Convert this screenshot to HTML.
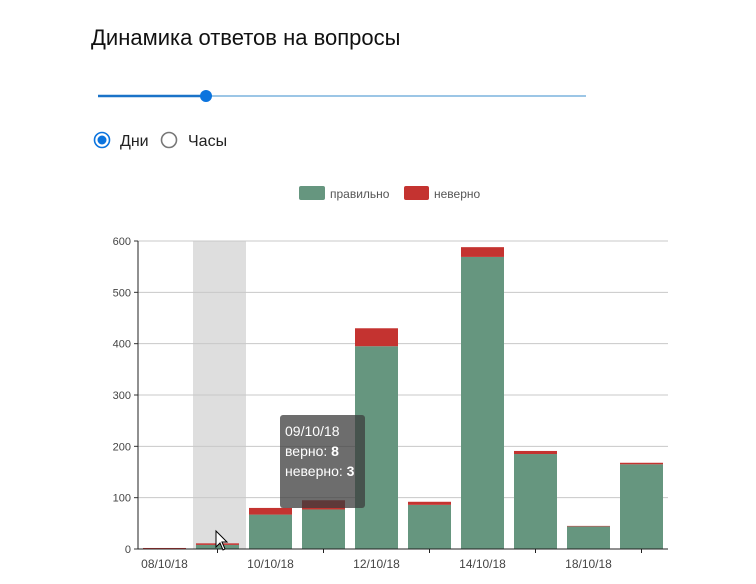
<!DOCTYPE html>
<html><head><meta charset="utf-8"><style>
body{margin:0;background:#fff;width:756px;height:579px;overflow:hidden;font-family:"Liberation Sans",sans-serif}
</style></head><body>
<svg width="756" height="579" xmlns="http://www.w3.org/2000/svg">
<text x="91" y="45" font-size="22" fill="#111">Динамика ответов на вопросы</text>
<g>
<line x1="98" y1="96" x2="586" y2="96" stroke="#9cc6e6" stroke-width="2"/>
<line x1="98" y1="96" x2="206" y2="96" stroke="#1a73c8" stroke-width="2.5"/>
<circle cx="206" cy="96" r="6" fill="#0b74de"/>
</g>
<g>
<circle cx="102" cy="140" r="7.5" fill="none" stroke="#0b74de" stroke-width="1.6"/>
<circle cx="102" cy="140" r="4.5" fill="#0b74de"/>
<text x="120" y="146" font-size="16" fill="#222">Дни</text>
</g>
<g>
<circle cx="169" cy="140" r="7.5" fill="none" stroke="#777" stroke-width="1.6"/>
<text x="188" y="146" font-size="16" fill="#222">Часы</text>
</g>
<g>
<rect x="299" y="186" width="26" height="14" rx="2" fill="#66967f"/>
<text x="330" y="198" font-size="12" fill="#555">правильно</text>
<rect x="404" y="186" width="25" height="14" rx="2" fill="#c43330"/>
<text x="434" y="198" font-size="12" fill="#555">неверно</text>
</g>
<g id="chart"></g>
</svg>
<script>
const categories=["08/10/18","09/10/18","10/10/18","11/10/18","12/10/18","13/10/18","14/10/18","17/10/18","18/10/18","19/10/18"];
const correct=[0,8,67,77,395,86,569,185,44,165];
const wrong=[2,3,13,18,35,6,19,6,1,3];
const yTicks=[0,100,200,300,400,500,600];
const xLabelIdx=[0,2,4,6,8];
const NS="http://www.w3.org/2000/svg";
const g=document.getElementById('chart');
const x0=138,x1=668,y0=549,yTop=241,yMax=600;
const bw=(x1-x0)/categories.length;
const y=v=>y0-(v/yMax)*(y0-yTop);
const bx=i=>x0+i*bw;
function mk(t,a){const e=document.createElementNS(NS,t);for(const k in a)e.setAttribute(k,a[k]);g.appendChild(e);return e;}
let hl=mk('rect',{x:bx(1)+2,y:yTop,width:bw,height:y0-yTop,fill:'#dedede'});


yTicks.forEach(t=>{
 let l=mk('line',{x1:x0,x2:x1,y1:y(t),y2:y(t),stroke:'#c8c8c8'});
 
 
 let tk=mk('line',{x1:x0-4,x2:x0,y1:y(t),y2:y(t),stroke:'#333'});
 
 
 let tx=mk('text',{x:x0-7,y:y(t)+4,'font-size':11,'text-anchor':'end',fill:'#444'});
 tx.textContent=t;
 
 
});
categories.forEach((c,i)=>{
 const bxx=bx(i)+5,w=bw-10;
 let r1=mk('rect',{x:bxx,y:y(correct[i]),width:w,height:y0-y(correct[i]),fill:'#66967f'});
 
 
 let r2=mk('rect',{x:bxx,y:y(correct[i]+wrong[i]),width:w,height:y(correct[i])-y(correct[i]+wrong[i]),fill:'#c43330'});
 
 
});
let ax=mk('line',{x1:x0,x2:x1,y1:y0,y2:y0,stroke:'#222'});


let ay=mk('line',{x1:x0,x2:x0,y1:yTop,y2:y0,stroke:'#222'});


xLabelIdx.forEach(i=>{
 let t=mk('text',{x:bx(i)+bw/2,y:568,'font-size':12,'text-anchor':'middle',fill:'#444'});
 t.textContent=categories[i];
 
 
 let tk=mk('line',{x1:bx(i+1)+bw/2,x2:bx(i+1)+bw/2,y1:y0,y2:y0+4,stroke:'#222'});
 
 
});
let tip=mk('rect',{x:280,y:415,width:85,height:93,rx:3,fill:'rgba(60,60,60,0.75)'});


const tl=[[categories[1],''],['верно: ',correct[1]],['неверно: ',wrong[1]]];
tl.forEach((p,k)=>{
 let t=mk('text',{x:285,y:436+k*20,'font-size':14,fill:'#fff'});
 t.innerHTML=p[0]+(p[1]!==''?'<tspan font-weight="bold">'+p[1]+'</tspan>':'');
 
 
});
let cur=mk('path',{d:'M216 531 L216 547 L220 543 L223 550 L225 549 L222 542 L227 542 Z',fill:'#fff',stroke:'#000','stroke-width':1});


</script>
</body></html>
